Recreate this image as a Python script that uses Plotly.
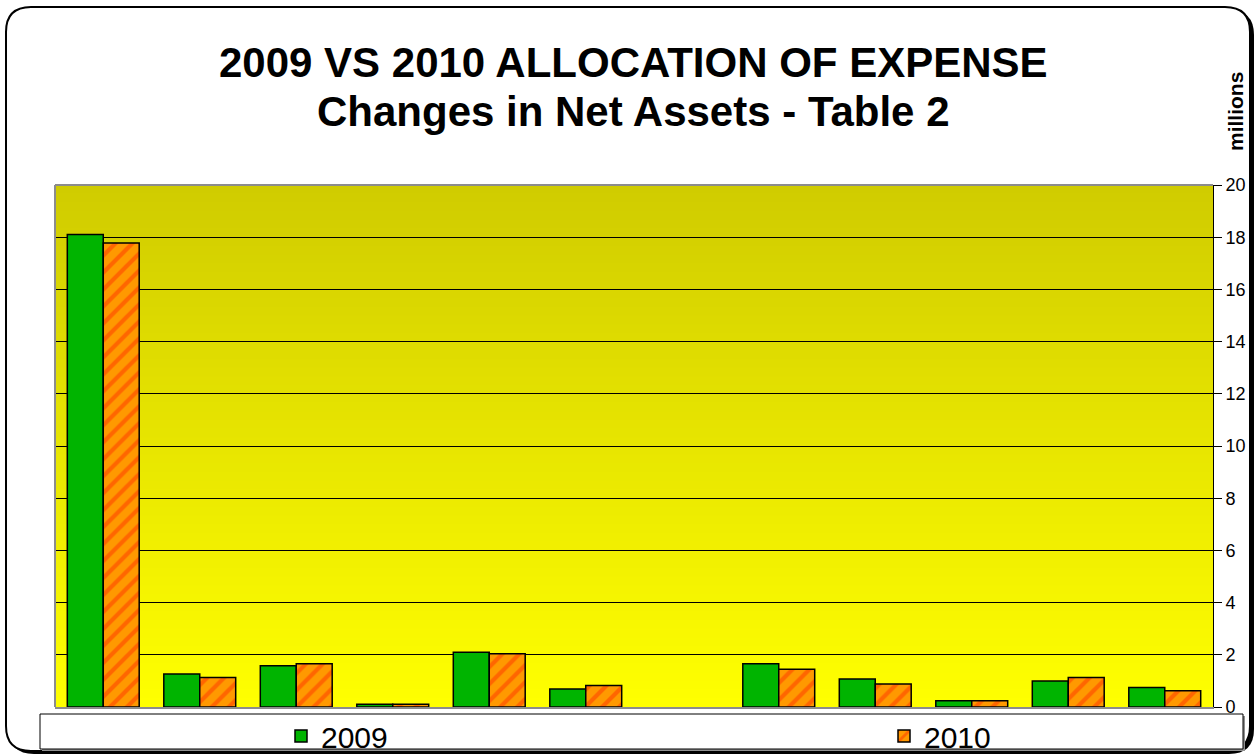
import plotly.graph_objects as go

categories = ["C1", "C2", "C3", "C4", "C5", "C6", "C7", "C8", "C9", "C10", "C11", "C12"]
values_2009 = [18.1, 1.26, 1.58, 0.11, 2.1, 0.69, None, 1.66, 1.07, 0.24, 1.0, 0.75]
values_2010 = [17.78, 1.13, 1.66, 0.11, 2.04, 0.82, None, 1.45, 0.88, 0.24, 1.13, 0.62]
y_ticks = [0, 2, 4, 6, 8, 10, 12, 14, 16, 18, 20]

W, H = 1259, 756
ML, MR, MT, MB = 55, 46, 185, 49
PW, PH = W - ML - MR, H - MT - MB
FONT = "Arial, Liberation Sans, sans-serif"


def px(p):
    return (p - ML) / PW


def py(p):
    return (H - MB - p) / PH


def rrect(x0, y0, x1, y1, r):
    pts = [
        ("M", [(x0 + r, y0)]), ("L", [(x1 - r, y0)]), ("Q", [(x1, y0), (x1, y0 + r)]),
        ("L", [(x1, y1 - r)]), ("Q", [(x1, y1), (x1 - r, y1)]), ("L", [(x0 + r, y1)]),
        ("Q", [(x0, y1), (x0, y1 - r)]), ("L", [(x0, y0 + r)]), ("Q", [(x0, y0), (x0 + r, y0)]),
    ]
    s = ""
    for cmd, ps in pts:
        s += cmd + " " + " ".join(f"{px(a):.5f},{py(b):.5f}" for a, b in ps) + " "
    return s + "Z"


fig = go.Figure()
fig.add_trace(go.Bar(
    name="2009", x=categories, y=values_2009, legendwidth=558,
    marker=dict(color="#00B400", line=dict(color="black", width=1.5)),
))
fig.add_trace(go.Bar(
    name="2010", x=categories, y=values_2010, legendwidth=90,
    marker=dict(color="#FF9900", line=dict(color="black", width=1.5),
                pattern=dict(shape="/", fgcolor="#FF6600", bgcolor="#FF9900",
                             size=12, solidity=0.35, fillmode="replace")),
))

shapes = []
# outer frame with shadow
shapes.append(dict(type="path", xref="paper", yref="paper", layer="below",
                   path=rrect(9, 10, 1254, 754, 25), fillcolor="black", line=dict(width=0)))
shapes.append(dict(type="path", xref="paper", yref="paper", layer="below",
                   path=rrect(6, 7, 1250, 751, 25), fillcolor="white",
                   line=dict(color="black", width=2)))
# plot background gradient
n = 60
top = (208, 204, 0)
bot = (255, 255, 0)
for i in range(n):
    t = i / (n - 1)
    c = tuple(round(bot[k] + (top[k] - bot[k]) * t) for k in range(3))
    shapes.append(dict(type="rect", xref="paper", yref="paper", layer="below",
                       x0=0, x1=1, y0=i / n, y1=(i + 1) / n + 0.002,
                       fillcolor=f"rgb{c}", line=dict(width=0)))
# plot frame left/top gray
shapes.append(dict(type="line", xref="paper", yref="paper", x0=0, x1=0, y0=0, y1=1,
                   line=dict(color="#8C8C8C", width=2)))
shapes.append(dict(type="line", xref="paper", yref="paper", x0=0, x1=1, y0=1, y1=1,
                   line=dict(color="#8C8C8C", width=2)))
# legend box with shadow
shapes.append(dict(type="rect", xref="paper", yref="paper", layer="below",
                   x0=px(42), x1=px(1245), y0=py(751), y1=py(716),
                   fillcolor="#909090", line=dict(width=0)))
shapes.append(dict(type="rect", xref="paper", yref="paper", layer="below",
                   x0=px(40), x1=px(1243), y0=py(749), y1=py(714),
                   fillcolor="white", line=dict(color="black", width=1)))

annotations = [
    dict(text="<b>2009 VS 2010 ALLOCATION OF EXPENSE</b>", xref="paper", yref="paper",
         x=px(633), y=py(62), xanchor="center", yanchor="middle", showarrow=False,
         font=dict(family=FONT, size=42, color="black")),
    dict(text="<b>Changes in Net Assets - Table 2</b>", xref="paper", yref="paper",
         x=px(633), y=py(112), xanchor="center", yanchor="middle", showarrow=False,
         font=dict(family=FONT, size=42, color="black")),
    dict(text="<b>millions</b>", xref="paper", yref="paper", textangle=-90,
         x=px(1236), y=py(112), xanchor="center", yanchor="middle", showarrow=False,
         font=dict(family=FONT, size=21, color="black")),
]

fig.update_layout(
    width=W, height=H,
    margin=dict(l=ML, r=MR, t=MT, b=MB, pad=0, autoexpand=False),
    paper_bgcolor="white", plot_bgcolor="rgba(0,0,0,0)",
    barmode="group", bargap=0.255, bargroupgap=0,
    font=dict(family=FONT, color="black"),
    shapes=shapes, annotations=annotations,
    showlegend=True,
    legend=dict(orientation="h", x=px(281), xanchor="left", y=py(736), yanchor="middle",
                bgcolor="rgba(0,0,0,0)",
                font=dict(family=FONT, size=30, color="black"), borderwidth=0),
    xaxis=dict(showticklabels=False, ticks="", showgrid=False, zeroline=False,
               showline=True, linecolor="#8C8C8C", linewidth=2),
    yaxis=dict(side="right", range=[0, 20], tickvals=y_ticks, ticks="outside", ticklen=8,
               tickcolor="black", showline=True, linecolor="black", linewidth=1,
               showgrid=True, gridcolor="black", gridwidth=1, zeroline=False,
               tickfont=dict(family=FONT, size=18, color="black")),
)

fig.write_html(
    "out.html",
    config={"displayModeBar": False},
    post_script="document.body.style.margin='0';document.body.style.overflow='hidden';",
)
